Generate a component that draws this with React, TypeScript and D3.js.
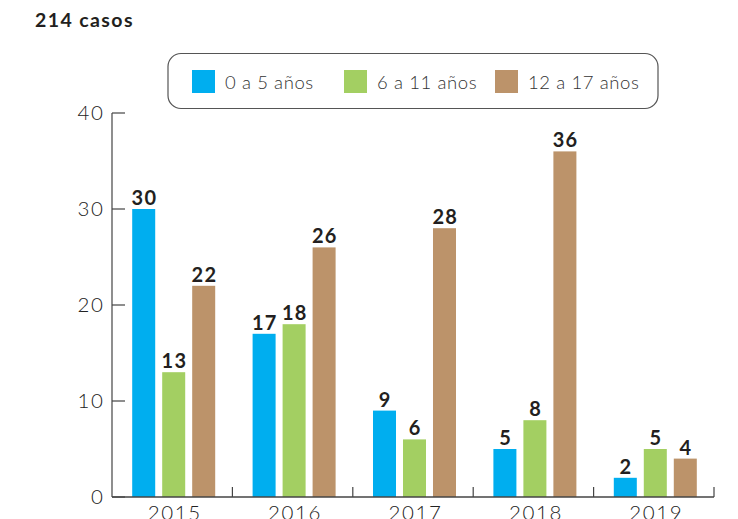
import React from 'react';
import * as d3 from 'd3';

const years = ['2015', '2016', '2017', '2018', '2019'];
const seriesNames = ['0 a 5 años', '6 a 11 años', '12 a 17 años'];
const colors = ['#00AEEF', '#A3CF62', '#BC936A'];
const age0to5 = [30, 17, 9, 5, 2];
const age6to11 = [13, 18, 6, 8, 5];
const age12to17 = [22, 26, 28, 36, 4];
const yTicks = [0, 10, 20, 30, 40];
const title = '214 casos';

const W = 738;
const H = 519;
const FONT = 'Lato, "Open Sans", sans-serif';

const App = () => {
  const series = [age0to5, age6to11, age12to17];

  const x0 = d3.scaleBand<string>().domain(years).range([112, 714]).padding(0);
  const x1 = d3.scaleBand<number>().domain([0, 1, 2]).range([0, 83]).paddingInner(0.233);
  const groupOffset = (x0.bandwidth() - 83) / 2 + 1.5;
  const y = d3.scaleLinear().domain([0, 40]).range([497, 113]);

  const boundaries = years.map((yr) => (x0(yr) as number) + x0.bandwidth());

  return (
    <div style={{ position: 'fixed', left: 0, top: 0 }}>
      <svg width={W} height={H} style={{ display: 'block', background: '#fff' }}>
        <text x={35} y={27} fontFamily={FONT} fontWeight={700} fontSize={19.5} letterSpacing={1.4} fill="#231f20">
          {title}
        </text>

        {/* legend */}
        <rect x={168} y={53.5} width={490} height={55} rx={13} fill="#fff" stroke="#555" strokeWidth={1.2} />
        {seriesNames.map((name, i) => {
          const lx = [192, 344, 495][i];
          return (
            <g key={name}>
              <rect x={lx} y={70} width={23} height={23} fill={colors[i]} />
              <text x={lx + 33} y={88.5} fontFamily={FONT} fontWeight={300} fontSize={18.5} letterSpacing={0.6} fill="#333">
                {name}
              </text>
            </g>
          );
        })}

        {/* y axis */}
        <line x1={112} x2={112} y1={y(40)} y2={y(0)} stroke="#444" strokeWidth={1.2} />
        {yTicks.map((t) => (
          <g key={t}>
            <line x1={112} x2={125} y1={y(t)} y2={y(t)} stroke="#444" strokeWidth={1.2} />
            <text x={104.5} y={y(t) + 7} textAnchor="end" fontFamily={FONT} fontWeight={300} fontSize={20.5} letterSpacing={1.6} fill="#222">
              {t}
            </text>
          </g>
        ))}

        {/* bars */}
        {years.map((yr, gi) => (
          <g key={yr} transform={`translate(${(x0(yr) as number) + groupOffset},0)`}>
            {series.map((vals, si) => {
              const bx = x1(si) as number;
              const v = vals[gi];
              return (
                <g key={si}>
                  <rect x={bx} y={y(v)} width={x1.bandwidth()} height={y(0) - y(v)} fill={colors[si]} />
                  <text
                    x={bx + x1.bandwidth() / 2 + 0.7}
                    y={y(v) - 4}
                    textAnchor="middle"
                    fontFamily={FONT}
                    fontWeight={700}
                    fontSize={20}
                    letterSpacing={1.2}
                    fill="#231f20"
                  >
                    {v}
                  </text>
                </g>
              );
            })}
          </g>
        ))}

        {/* x axis */}
        <line x1={112} x2={714} y1={497} y2={497} stroke="#444" strokeWidth={1.4} />
        {boundaries.map((bx, i) => (
          <line key={i} x1={bx} x2={bx} y1={487} y2={497} stroke="#444" strokeWidth={1.2} />
        ))}
        {years.map((yr) => (
          <text
            key={yr}
            x={(x0(yr) as number) + x0.bandwidth() / 2 + 2.5}
            y={520}
            textAnchor="middle"
            fontFamily={FONT}
            fontWeight={300}
            fontSize={20.5}
            letterSpacing={1.6}
            fill="#222"
          >
            {yr}
          </text>
        ))}
      </svg>
    </div>
  );
};

export default App;
